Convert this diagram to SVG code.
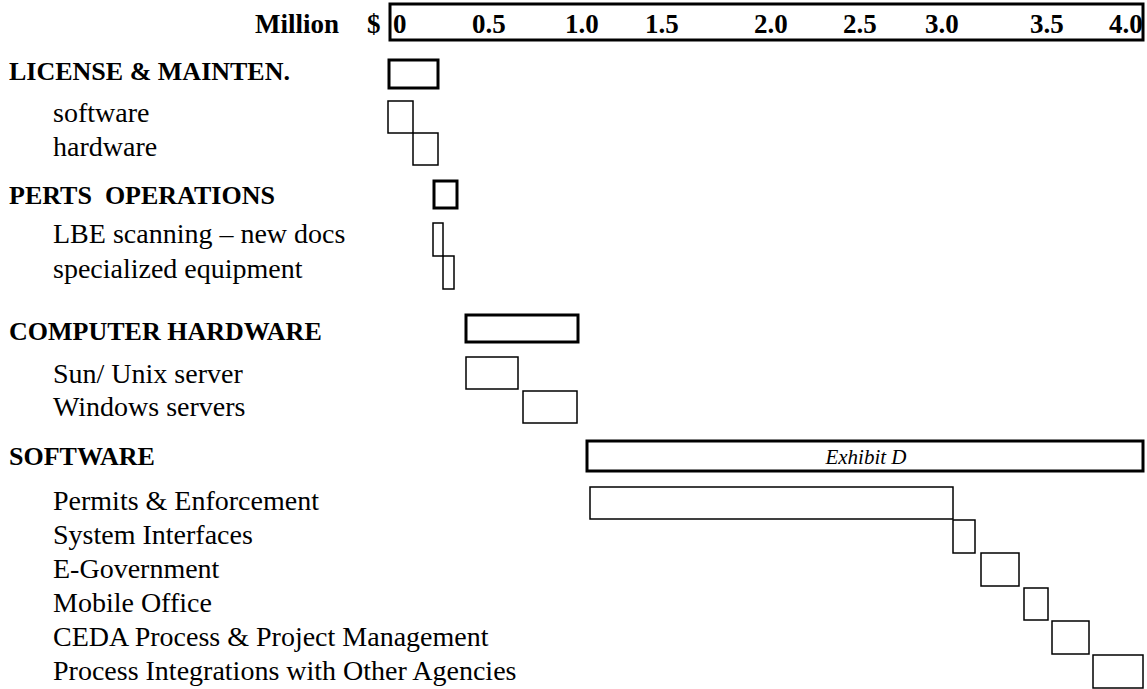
<svg xmlns="http://www.w3.org/2000/svg" width="1147" height="689" viewBox="0 0 1147 689">
<style>
text{font-family:"Liberation Serif","Times New Roman",serif;fill:#000}
.h{font-weight:bold;font-size:26px}
.s{font-size:28px}
.t{font-weight:bold;font-size:27px}
.ex{font-style:italic;font-size:21px}
.thick{fill:none;stroke:#000;stroke-width:3}
.thin{fill:none;stroke:#000;stroke-width:1.5}
</style>
<rect width="1147" height="689" fill="#fff"/>
<g id="axis">
<text class="t" x="255" y="33" font-size="28">Million</text>
<text class="t" x="367" y="33">$</text>
<rect class="thick" x="390" y="4" width="753" height="36"/>
<text class="t" x="393" y="33">0</text>
<text class="t" x="472" y="33">0.5</text>
<text class="t" x="565" y="33">1.0</text>
<text class="t" x="645" y="33">1.5</text>
<text class="t" x="754" y="33">2.0</text>
<text class="t" x="843" y="33">2.5</text>
<text class="t" x="925" y="33">3.0</text>
<text class="t" x="1030" y="33">3.5</text>
<text class="t" x="1109" y="33">4.0</text>
</g>
<g id="license">
<text class="h" x="9" y="80">LICENSE &amp; MAINTEN.</text>
<rect class="thick" x="389" y="60" width="49" height="28"/>
</g>
<g id="software-lic">
<text class="s" x="53" y="122">software</text>
<rect class="thin" x="388" y="101" width="25" height="32"/>
</g>
<g id="hardware-lic">
<text class="s" x="53" y="156">hardware</text>
<rect class="thin" x="413" y="133" width="25" height="32"/>
</g>
<g id="perts">
<text class="h" x="9" y="204">PERTS&#160; OPERATIONS</text>
<rect class="thick" x="434" y="181" width="23" height="27"/>
</g>
<g id="lbe">
<text class="s" x="53" y="243">LBE scanning – new docs</text>
<rect class="thin" x="433" y="223" width="10" height="33"/>
</g>
<g id="specialized">
<text class="s" x="53" y="278">specialized equipment</text>
<rect class="thin" x="443" y="256" width="11" height="33"/>
</g>
<g id="computer">
<text class="h" x="9" y="340">COMPUTER HARDWARE</text>
<rect class="thick" x="466" y="315" width="112" height="27"/>
</g>
<g id="sun">
<text class="s" x="53" y="383">Sun/ Unix server</text>
<rect class="thin" x="466" y="357" width="52" height="32"/>
</g>
<g id="windows">
<text class="s" x="53" y="416">Windows servers</text>
<rect class="thin" x="523" y="391" width="54" height="32"/>
</g>
<g id="software">
<text class="h" x="9" y="465">SOFTWARE</text>
<rect class="thick" x="587" y="441" width="556" height="30"/>
<text class="ex" x="866" y="464" text-anchor="middle">Exhibit D</text>
</g>
<g id="permits">
<text class="s" x="53" y="510">Permits &amp; Enforcement</text>
<rect class="thin" x="590" y="487" width="363" height="32"/>
</g>
<g id="interfaces">
<text class="s" x="53" y="544">System Interfaces</text>
<rect class="thin" x="953" y="520" width="22" height="33"/>
</g>
<g id="egov">
<text class="s" x="53" y="578">E-Government</text>
<rect class="thin" x="981" y="553" width="38" height="33"/>
</g>
<g id="mobile">
<text class="s" x="53" y="612">Mobile Office</text>
<rect class="thin" x="1024" y="588" width="24" height="32"/>
</g>
<g id="ceda">
<text class="s" x="53" y="646">CEDA Process &amp; Project Management</text>
<rect class="thin" x="1052" y="621" width="37" height="33"/>
</g>
<g id="integrations">
<text class="s" x="53" y="680">Process Integrations with Other Agencies</text>
<rect class="thin" x="1093" y="655" width="50" height="33"/>
</g>
<g id="connectors"></g>
</svg>
